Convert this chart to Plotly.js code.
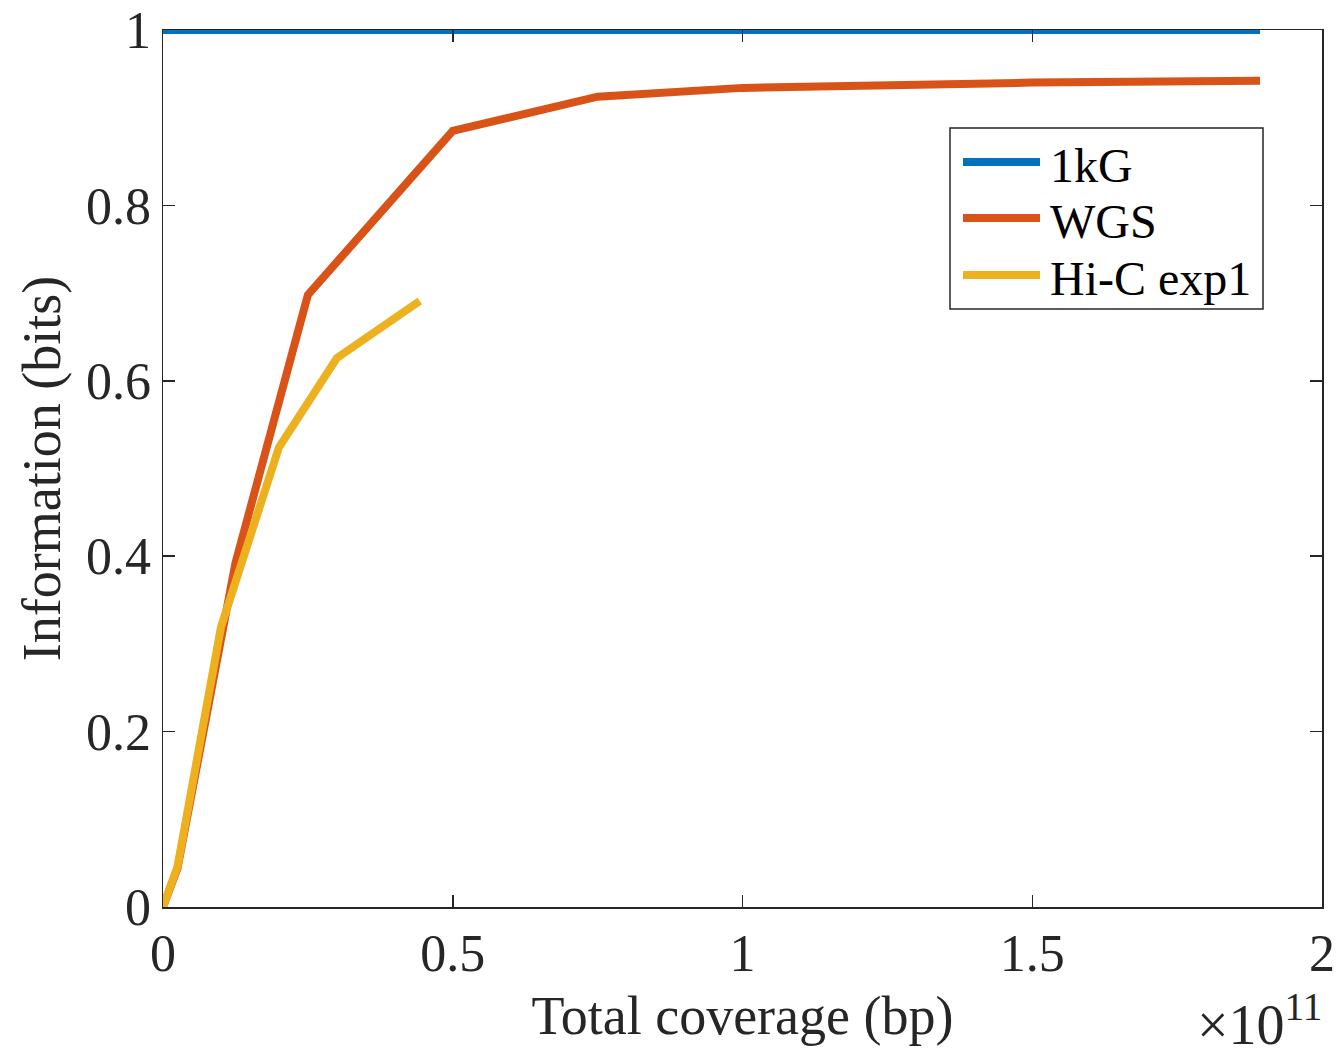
<!DOCTYPE html>
<html>
<head>
<meta charset="utf-8">
<script src="https://cdn.plot.ly/plotly-3.0.1.min.js"></script>
<style>html,body{margin:0;padding:0;background:#fff;}#chart{width:1339px;height:1057px;}</style>
</head>
<body>
<div id="chart"></div>
<script>
const seriesNames = ['1kG', 'WGS', 'Hi-C exp1'];
const kgX = [0, 1.893e11];
const kgY = [1, 1];
const wgsX = [0, 0.25e10, 1.25e10, 2.5e10, 5e10, 7.5e10, 10e10, 12.5e10, 15e10, 18.93e10];
const wgsY = [0, 0.044, 0.392, 0.698, 0.885, 0.924, 0.934, 0.938, 0.940, 0.942];
const hicX = [0, 0.25e10, 1e10, 2e10, 3e10, 4.43e10];
const hicY = [0, 0.046, 0.319, 0.524, 0.626, 0.691];
const xTickVals = [0, 0.5e11, 1e11, 1.5e11, 2e11];
const xTickText = ['0', '0.5', '1', '1.5', '2'];
const yTickVals = [0, 0.2, 0.4, 0.6, 0.8, 1];
const yTickText = ['0', '0.2', '0.4', '0.6', '0.8', '1'];
const colors = ['#0072BD', '#D95319', '#EDB120'];

const font = 'Liberation Serif, Times New Roman, serif';
const traces = [
  {x: kgX, y: kgY, name: seriesNames[0]},
  {x: wgsX, y: wgsY, name: seriesNames[1]},
  {x: hicX, y: hicY, name: seriesNames[2]}
].map((t, i) => Object.assign(t, {type: 'scatter', mode: 'lines', line: {color: colors[i], width: 8}, cliponaxis: false, showlegend: false}));

const axisCommon = {
  showline: true, mirror: 'ticks', linecolor: '#262626', linewidth: 1.5,
  ticks: 'inside', ticklen: 12, tickwidth: 1.5, tickcolor: '#262626',
  showgrid: false, zeroline: false,
  tickfont: {family: font, size: 52, color: '#262626'}
};

// legend box geometry in paper coordinates (plot area: 1159 x 877 px)
const PW = 1159, PH = 877;
const px = v => (v - 163) / PW;
const py = v => (907 - v) / PH;
const legBox = {x0: px(950), x1: px(1263), y0: py(309), y1: py(128)};
const legRows = [162, 218, 275];

const shapes = [{
  type: 'rect', xref: 'paper', yref: 'paper',
  x0: legBox.x0, x1: legBox.x1, y0: legBox.y0, y1: legBox.y1,
  line: {color: '#262626', width: 1.5}, fillcolor: '#fff', layer: 'above'
}];
const annotations = [];
seriesNames.forEach((n, i) => {
  shapes.push({
    type: 'line', xref: 'paper', yref: 'paper',
    x0: px(963), x1: px(1040), y0: py(legRows[i]), y1: py(legRows[i]),
    line: {color: colors[i], width: 8}, layer: 'above'
  });
  annotations.push({
    xref: 'paper', yref: 'paper', x: px(1048), y: py(legRows[i] + 3),
    xanchor: 'left', yanchor: 'middle', showarrow: false, text: n,
    font: {family: font, size: 48, color: '#000'}
  });
});
annotations.push({
  xref: 'paper', yref: 'paper', x: 1.002, y: -0.172, xanchor: 'right', yanchor: 'bottom',
  text: '×10<sup>11</sup>', showarrow: false,
  font: {family: font, size: 56, color: '#262626'}
});

const layout = {
  width: 1339, height: 1057,
  margin: {l: 163, r: 17, t: 30, b: 150},
  paper_bgcolor: '#fff', plot_bgcolor: '#fff',
  showlegend: false,
  xaxis: Object.assign({}, axisCommon, {
    range: [0, 2e11], tickvals: xTickVals, ticktext: xTickText,
    title: {text: 'Total coverage (bp)', font: {family: font, size: 54, color: '#262626'}, standoff: 15}
  }),
  yaxis: Object.assign({}, axisCommon, {
    range: [0, 1], tickvals: yTickVals, ticktext: yTickText,
    title: {text: 'Information (bits)', font: {family: font, size: 54, color: '#262626'}, standoff: 8}
  }),
  shapes: shapes,
  annotations: annotations
};

Plotly.newPlot('chart', traces, layout, {displayModeBar: false, staticPlot: true});
</script>
</body>
</html>
